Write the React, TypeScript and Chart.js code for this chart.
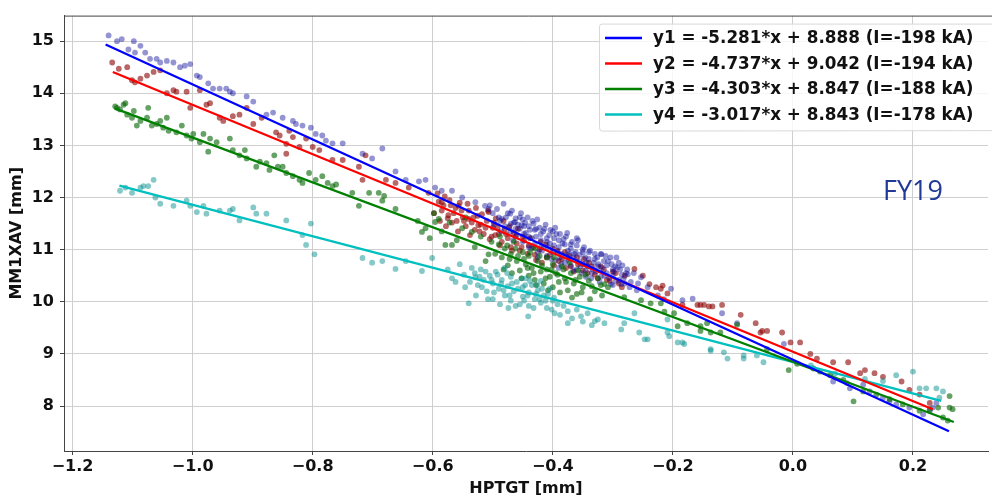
import React, { useEffect, useRef } from "react";
import { Chart, registerables } from "chart.js";

Chart.register(...registerables);

// ---------- data ----------
const X_TICKS = [-1.2, -1.0, -0.8, -0.6, -0.4, -0.2, 0.0, 0.2];
const Y_TICKS = [8, 9, 10, 11, 12, 13, 14, 15];
const X_TITLE = "HPTGT [mm]";
const Y_TITLE = "MM1XAV [mm]";
const NOTE = "FY19";

const FIT_LABELS = [
  "y1 = -5.281*x + 8.888 (I=-198 kA)",
  "y2 = -4.737*x + 9.042 (I=-194 kA)",
  "y3 = -4.303*x + 8.847 (I=-188 kA)",
  "y4 = -3.017*x + 8.843 (I=-178 kA)",
];

// fitted line end points [x, y]
const FIT_198 = [[-1.145, 14.935], [0.26, 7.515]];
const FIT_194 = [[-1.133, 14.409], [0.233, 7.938]];
const FIT_188 = [[-1.13, 13.709], [0.268, 7.694]];
const FIT_178 = [[-1.122, 12.228], [0.247, 8.098]];

// measured points [x, y]
const PTS_198 = [
  [-1.140, 15.11], [-1.126, 15.00], [-1.118, 15.04], [-1.098, 15.00], [-1.107, 14.84], [-1.096, 14.78],
  [-1.087, 14.91], [-1.079, 14.78], [-1.071, 14.66], [-1.060, 14.66], [-1.054, 14.59], [-1.043, 14.62],
  [-1.032, 14.59], [-1.021, 14.50], [-1.013, 14.53], [-1.004, 14.56], [-0.993, 14.34], [-0.988, 14.31],
  [-0.974, 14.19], [-0.966, 14.09], [-0.955, 14.09], [-0.944, 14.09], [-0.938, 14.03], [-0.933, 14.00],
  [-0.910, 13.94], [-0.899, 13.84], [-0.877, 13.59], [-0.866, 13.63], [-0.850, 13.53], [-0.833, 13.47],
  [-0.828, 13.41], [-0.817, 13.38], [-0.803, 13.34], [-0.795, 13.22], [-0.784, 13.19], [-0.778, 13.09],
  [-0.767, 13.04], [-0.750, 13.04], [-0.717, 12.84], [-0.701, 12.75], [-0.684, 12.94], [-0.662, 12.50],
  [-0.645, 12.34], [-0.623, 12.31], [-0.612, 12.34], [-0.596, 12.19], [-0.585, 12.13], [-0.568, 12.13],
  [-0.551, 12.00], [-0.529, 11.91], [-0.513, 11.84], [-0.507, 11.78], [-0.485, 11.59], [-0.471, 11.69],
  [-0.463, 11.53], [-0.452, 11.47],
  [-0.49, 11.62], [-0.48, 11.45], [-0.475, 11.70], [-0.47, 11.35], [-0.465, 11.52], [-0.46, 11.28],
  [-0.455, 11.40], [-0.45, 11.15], [-0.45, 11.58], [-0.445, 11.32], [-0.44, 11.05], [-0.44, 11.45],
  [-0.435, 11.22], [-0.43, 11.10], [-0.43, 11.38], [-0.425, 10.95], [-0.42, 11.18], [-0.42, 11.30],
  [-0.415, 11.05], [-0.41, 10.88], [-0.41, 11.22], [-0.405, 11.12], [-0.40, 10.95], [-0.40, 11.35],
  [-0.395, 10.80], [-0.39, 11.05], [-0.39, 11.18], [-0.385, 10.92], [-0.38, 10.75], [-0.38, 11.10],
  [-0.375, 10.98], [-0.37, 10.70], [-0.37, 11.02], [-0.365, 10.85], [-0.36, 10.62], [-0.36, 11.08],
  [-0.355, 10.90], [-0.35, 10.72], [-0.35, 10.95], [-0.345, 10.60], [-0.34, 10.82], [-0.335, 10.55],
  [-0.33, 10.92], [-0.325, 10.68], [-0.32, 10.48], [-0.315, 10.78], [-0.31, 10.55], [-0.30, 10.62],
  [-0.295, 10.40], [-0.29, 10.75], [-0.285, 10.52], [-0.28, 10.35],
  [-0.319, 10.91], [-0.308, 10.78], [-0.292, 10.66], [-0.275, 10.53], [-0.270, 10.38], [-0.303, 10.34],
  [-0.286, 10.34], [-0.253, 10.47], [-0.242, 10.28], [-0.26, 10.22], [-0.225, 10.12], [-0.215, 10.05],
  [-0.203, 10.25], [-0.184, 10.03], [-0.167, 10.06], [-0.118, 9.78], [-0.093, 9.59], [-0.015, 9.19],
  [0.067, 8.47], [0.090, 8.44], [0.095, 8.34], [0.117, 8.41], [0.128, 8.28], [0.150, 8.16],
  [0.161, 8.09], [0.172, 8.03], [0.194, 7.97], [0.217, 7.84], [0.233, 7.97], [0.228, 7.91], [0.239, 8.06],
];
const CORE_198 = [
  [-0.505, 11.85], [-0.50, 11.70], [-0.498, 11.48], [-0.493, 11.78], [-0.488, 11.55], [-0.486, 11.35],
  [-0.482, 11.88], [-0.478, 11.62], [-0.473, 11.42], [-0.468, 11.75], [-0.466, 11.18], [-0.462, 11.60],
  [-0.458, 11.48], [-0.453, 11.70], [-0.448, 11.30], [-0.446, 11.52], [-0.442, 11.62], [-0.438, 11.38],
  [-0.436, 11.02], [-0.432, 11.50], [-0.428, 11.25], [-0.426, 11.58], [-0.422, 11.42], [-0.418, 10.98],
  [-0.416, 11.35], [-0.412, 11.48], [-0.408, 11.05], [-0.406, 11.28], [-0.402, 10.82], [-0.398, 11.22],
  [-0.396, 11.42], [-0.392, 10.95], [-0.388, 11.30], [-0.386, 10.72], [-0.382, 11.20], [-0.378, 10.88],
  [-0.376, 11.32], [-0.372, 10.92], [-0.368, 11.15], [-0.366, 10.60], [-0.362, 10.95], [-0.358, 11.18],
  [-0.356, 10.78], [-0.352, 10.55], [-0.348, 11.05], [-0.346, 10.85], [-0.342, 10.68], [-0.338, 10.98],
  [-0.336, 10.45], [-0.332, 10.75], [-0.328, 10.58], [-0.326, 10.85], [-0.322, 10.38], [-0.318, 10.65],
  [-0.312, 10.88], [-0.306, 10.45], [-0.302, 10.72], [-0.298, 10.58], [-0.294, 10.85], [-0.288, 10.62],
  [-0.282, 10.45], [-0.276, 10.62], [-0.272, 10.28], [-0.265, 10.55], [-0.258, 10.35],
  [-0.47, 11.50], [-0.462, 11.40], [-0.455, 11.62], [-0.448, 11.45], [-0.44, 11.25], [-0.434, 11.55],
  [-0.428, 11.40], [-0.42, 11.05], [-0.414, 11.40], [-0.41, 11.15], [-0.404, 11.38], [-0.398, 11.08],
  [-0.394, 11.30], [-0.388, 10.85], [-0.384, 11.12], [-0.378, 11.25], [-0.374, 10.80], [-0.37, 11.10],
  [-0.364, 10.92], [-0.36, 11.22], [-0.354, 10.68], [-0.35, 11.00], [-0.344, 10.75], [-0.34, 10.95],
  [-0.334, 10.62], [-0.33, 10.82], [-0.324, 10.72], [-0.32, 10.92], [-0.314, 10.50], [-0.31, 10.70],
  [-0.304, 10.85], [-0.30, 10.50], [-0.296, 10.68], [-0.29, 10.42], [-0.284, 10.70], [-0.278, 10.55],
  [-0.30, 10.32], [-0.345, 10.48], [-0.39, 10.65], [-0.425, 10.85],
];

const PTS_194 = [
  [-1.134, 14.59], [-1.123, 14.47], [-1.109, 14.50], [-1.101, 14.25], [-1.096, 14.21], [-1.087, 14.28],
  [-1.076, 14.34], [-1.065, 14.41], [-1.054, 14.44], [-1.043, 14.00], [-1.032, 14.06], [-1.027, 14.03],
  [-1.010, 14.03], [-1.004, 13.72], [-0.988, 14.06], [-0.977, 13.78], [-0.971, 13.81], [-0.955, 13.53],
  [-0.949, 13.47], [-0.933, 13.56], [-0.922, 13.59], [-0.910, 13.72], [-0.899, 13.41], [-0.885, 13.53],
  [-0.861, 13.25], [-0.855, 13.19], [-0.844, 13.03], [-0.839, 13.28], [-0.833, 13.16], [-0.822, 12.97],
  [-0.811, 13.13], [-0.800, 12.97], [-0.789, 12.91], [-0.844, 12.84],
  [-0.767, 12.72], [-0.750, 12.72], [-0.723, 12.59], [-0.717, 12.34], [-0.712, 12.81], [-0.678, 12.34],
  [-0.662, 12.28], [-0.640, 12.19], [-0.607, 12.09], [-0.585, 11.91], [-0.574, 11.66], [-0.557, 11.84],
  [-0.540, 11.59], [-0.524, 11.47], [-0.507, 11.72], [-0.496, 11.28],
  [-0.59, 11.92], [-0.585, 11.75], [-0.58, 12.02], [-0.575, 11.60], [-0.57, 11.85], [-0.565, 11.70],
  [-0.56, 11.55], [-0.555, 11.90], [-0.55, 11.62], [-0.545, 11.45], [-0.54, 11.75], [-0.535, 11.52],
  [-0.53, 11.38], [-0.525, 11.65], [-0.52, 11.48], [-0.515, 11.30], [-0.51, 11.55], [-0.505, 11.20],
  [-0.50, 11.42], [-0.495, 11.60], [-0.49, 11.30], [-0.485, 11.15], [-0.48, 11.40], [-0.475, 11.22],
  [-0.47, 11.05], [-0.465, 11.32], [-0.46, 11.12], [-0.455, 10.98], [-0.45, 11.25], [-0.44, 11.08],
  [-0.43, 10.90], [-0.42, 11.15], [-0.41, 10.85], [-0.40, 11.02], [-0.39, 10.78], [-0.38, 10.95],
  [-0.37, 10.68], [-0.36, 10.85], [-0.35, 10.60], [-0.34, 10.75], [-0.33, 10.52], [-0.32, 10.68],
  [-0.31, 10.42], [-0.30, 10.58], [-0.29, 10.35], [-0.28, 10.50],
  [-0.264, 10.63], [-0.250, 10.50], [-0.239, 10.34], [-0.228, 10.28], [-0.217, 10.31], [-0.209, 10.16],
  [-0.220, 10.25], [-0.184, 9.94], [-0.159, 9.94], [-0.148, 9.94], [-0.154, 9.94], [-0.140, 9.91],
  [-0.134, 9.91], [-0.118, 9.94], [-0.087, 9.75], [-0.062, 9.59], [-0.054, 9.41], [-0.043, 9.44],
  [-0.051, 9.44], [-0.018, 9.41], [-0.004, 9.22], [0.012, 9.22], [0.029, 9.00], [0.040, 8.91],
  [0.067, 8.84], [0.092, 8.84], [0.112, 8.63], [0.120, 8.69], [0.136, 8.63], [0.150, 8.56],
  [0.181, 8.47], [0.194, 8.31], [0.211, 8.22], [0.228, 8.06],
];
const CORE_194 = [
  [-0.598, 11.70], [-0.592, 12.08], [-0.588, 11.55], [-0.582, 11.85], [-0.578, 11.45], [-0.572, 11.95],
  [-0.568, 11.52], [-0.562, 11.80], [-0.558, 11.35], [-0.552, 11.75], [-0.548, 11.55], [-0.542, 11.88],
  [-0.538, 11.28], [-0.532, 11.62], [-0.528, 11.80], [-0.522, 11.35], [-0.518, 11.68], [-0.512, 11.42],
  [-0.508, 11.75], [-0.502, 11.25], [-0.498, 11.52], [-0.492, 11.42], [-0.488, 11.08], [-0.482, 11.55],
  [-0.478, 11.30], [-0.472, 11.45], [-0.468, 10.98], [-0.462, 11.25], [-0.458, 11.40], [-0.452, 11.05],
  [-0.448, 11.18], [-0.442, 10.92], [-0.438, 11.22], [-0.432, 11.05], [-0.428, 10.80], [-0.422, 11.00],
  [-0.418, 10.75], [-0.412, 11.10], [-0.405, 10.90], [-0.398, 10.70], [-0.392, 10.98], [-0.385, 10.82],
  [-0.378, 10.65], [-0.372, 10.88], [-0.365, 10.58], [-0.358, 10.72], [-0.348, 10.82], [-0.342, 10.55],
  [-0.335, 10.68], [-0.325, 10.45], [-0.315, 10.62], [-0.305, 10.40], [-0.295, 10.55], [-0.285, 10.28],
];

const PTS_188 = [
  [-1.129, 13.75], [-1.126, 13.72], [-1.121, 13.69], [-1.115, 13.78], [-1.112, 13.81], [-1.109, 13.59],
  [-1.101, 13.53], [-1.098, 13.66], [-1.093, 13.38], [-1.087, 13.47], [-1.076, 13.53], [-1.074, 13.72],
  [-1.068, 13.38], [-1.060, 13.41], [-1.054, 13.47], [-1.049, 13.34], [-1.043, 13.53], [-1.040, 13.28],
  [-1.027, 13.25], [-1.018, 13.38], [-1.010, 13.19], [-1.002, 13.13], [-0.999, 13.22], [-0.988, 13.06],
  [-0.982, 13.22], [-0.974, 12.88], [-0.971, 13.13], [-0.960, 13.06], [-0.938, 13.13], [-0.933, 12.91],
  [-0.922, 12.81], [-0.913, 12.91], [-0.910, 12.75], [-0.894, 12.59], [-0.888, 12.69], [-0.877, 12.66],
  [-0.872, 12.53], [-0.864, 12.81], [-0.858, 12.59], [-0.850, 12.59], [-0.844, 12.47], [-0.833, 12.41],
  [-0.822, 12.34], [-0.817, 12.28], [-0.806, 12.47], [-0.795, 12.34], [-0.784, 12.41], [-0.775, 12.28],
  [-0.767, 12.22], [-0.761, 12.25], [-0.734, 12.09], [-0.723, 11.84], [-0.706, 12.09], [-0.690, 12.09],
  [-0.681, 12.03], [-0.684, 11.94], [-0.662, 11.78], [-0.618, 11.34], [-0.596, 11.53], [-0.579, 11.09],
  [-0.568, 11.09], [-0.612, 11.41], [-0.590, 11.59], [-0.551, 11.41], [-0.535, 11.34], [-0.507, 10.91],
  [-0.49, 11.10], [-0.485, 10.85], [-0.48, 11.02], [-0.475, 10.70], [-0.47, 10.92], [-0.465, 11.15],
  [-0.46, 10.78], [-0.455, 10.60], [-0.45, 10.95], [-0.445, 10.72], [-0.44, 10.50], [-0.44, 10.88],
  [-0.435, 10.65], [-0.43, 11.02], [-0.43, 10.42], [-0.425, 10.78], [-0.42, 10.58], [-0.415, 10.35],
  [-0.41, 10.85], [-0.41, 10.62], [-0.405, 10.48], [-0.40, 10.72], [-0.40, 10.28], [-0.395, 10.55],
  [-0.39, 10.38], [-0.385, 10.68], [-0.38, 10.45], [-0.375, 10.22], [-0.37, 10.55], [-0.365, 10.35],
  [-0.36, 10.15], [-0.355, 10.48], [-0.35, 10.28], [-0.34, 10.40], [-0.33, 10.20], [-0.32, 10.32],
  [-0.314, 10.34], [-0.308, 10.28], [-0.281, 10.09], [-0.253, 10.03], [-0.237, 9.97], [-0.214, 9.81],
  [-0.198, 9.78], [-0.176, 9.59], [-0.154, 9.53], [-0.143, 9.59], [-0.121, 9.41], [-0.220, 9.97],
  [-0.192, 9.53], [-0.154, 9.44], [-0.137, 9.41], [-0.093, 9.56], [-0.043, 9.09], [-0.007, 8.69],
  [0.007, 8.81], [0.034, 8.72], [0.045, 8.66], [0.062, 8.59], [0.084, 8.50], [0.101, 8.09],
  [0.117, 8.28], [0.139, 8.22], [0.161, 8.13], [0.183, 8.03], [0.211, 7.91], [0.228, 7.94],
  [0.242, 7.97], [0.250, 7.78], [0.261, 8.19], [0.261, 7.97], [0.266, 7.94], [0.258, 7.72],
];
const CORE_188 = [
  [-0.625, 11.55], [-0.605, 11.22], [-0.598, 11.70], [-0.585, 11.35], [-0.572, 11.52], [-0.56, 11.18],
  [-0.545, 11.62], [-0.53, 11.05], [-0.52, 11.25], [-0.512, 10.78], [-0.502, 11.15], [-0.496, 10.92],
  [-0.488, 11.25], [-0.482, 10.62], [-0.476, 11.08], [-0.472, 10.82], [-0.468, 10.55], [-0.462, 11.02],
  [-0.458, 10.88], [-0.452, 10.45], [-0.448, 10.82], [-0.442, 10.65], [-0.438, 10.95], [-0.432, 10.55],
  [-0.428, 10.32], [-0.422, 10.88], [-0.418, 10.70], [-0.412, 10.45], [-0.408, 10.22], [-0.402, 10.62],
  [-0.398, 10.85], [-0.392, 10.52], [-0.388, 10.18], [-0.382, 10.62], [-0.378, 10.38], [-0.372, 10.75],
  [-0.368, 10.08], [-0.362, 10.42], [-0.358, 10.60], [-0.352, 10.18], [-0.345, 10.52], [-0.338, 10.05],
  [-0.335, 10.30], [-0.325, 10.45], [-0.318, 10.12],
];

const PTS_178 = [
  [-1.121, 12.13], [-1.112, 12.19], [-1.101, 12.09], [-1.087, 12.19], [-1.082, 12.22], [-1.074, 12.22],
  [-1.065, 12.34], [-1.062, 12.00], [-1.054, 11.88], [-1.032, 11.84], [-1.010, 11.94], [-1.004, 11.84],
  [-0.993, 11.72], [-0.982, 11.84], [-0.977, 11.69], [-0.955, 11.75], [-0.938, 11.75], [-0.933, 11.78],
  [-0.922, 11.56], [-0.899, 11.81], [-0.894, 11.69], [-0.877, 11.69], [-0.844, 11.56], [-0.817, 11.28],
  [-0.811, 11.09], [-0.803, 11.50], [-0.797, 10.91],
  [-0.717, 10.84], [-0.701, 10.75], [-0.684, 10.78], [-0.662, 10.63], [-0.645, 10.78], [-0.618, 10.59],
  [-0.601, 10.84], [-0.562, 10.38], [-0.546, 10.28], [-0.529, 10.47], [-0.540, 9.97], [-0.474, 9.88],
  [-0.441, 9.72],
  [-0.53, 10.55], [-0.525, 10.32], [-0.52, 10.62], [-0.515, 10.42], [-0.51, 10.20], [-0.505, 10.50],
  [-0.50, 10.35], [-0.50, 10.05], [-0.495, 10.58], [-0.49, 10.25], [-0.485, 10.42], [-0.48, 10.12],
  [-0.48, 10.65], [-0.475, 10.30], [-0.47, 10.48], [-0.47, 10.02], [-0.465, 10.20], [-0.46, 10.38],
  [-0.455, 9.95], [-0.45, 10.28], [-0.45, 10.10], [-0.445, 10.45], [-0.44, 10.18], [-0.44, 9.92],
  [-0.435, 10.32], [-0.43, 10.05], [-0.425, 10.22], [-0.42, 9.98], [-0.42, 10.40], [-0.415, 10.12],
  [-0.41, 9.88], [-0.405, 10.25], [-0.40, 10.02],
  [-0.397, 9.78], [-0.375, 9.59], [-0.353, 9.72], [-0.330, 9.63], [-0.314, 9.59], [-0.286, 9.47],
  [-0.264, 9.78], [-0.247, 9.28], [-0.256, 9.41], [-0.325, 9.66], [-0.281, 9.59], [-0.242, 9.28],
  [-0.209, 9.41], [-0.192, 9.22], [-0.181, 9.19], [-0.137, 9.06], [-0.115, 9.03], [-0.082, 8.97],
  [-0.209, 9.66], [-0.206, 9.34], [-0.184, 9.22], [-0.137, 9.09], [-0.109, 8.91], [-0.082, 8.91],
  [-0.060, 8.97], [-0.049, 8.84], [0.03, 8.78], [0.07, 8.62], [0.12, 8.52], [0.15, 8.48],
  [0.172, 8.59], [0.200, 8.66], [0.211, 8.34], [0.222, 8.34], [0.239, 8.34], [0.250, 8.28], [0.244, 8.16],
];
const CORE_178 = [
  [-0.575, 10.62], [-0.568, 10.45], [-0.555, 10.72], [-0.548, 10.52], [-0.538, 10.38], [-0.535, 10.65],
  [-0.528, 10.12], [-0.522, 10.48], [-0.518, 10.28], [-0.512, 10.58], [-0.508, 10.05], [-0.502, 10.42],
  [-0.498, 10.18], [-0.492, 10.52], [-0.488, 9.95], [-0.486, 10.35], [-0.482, 10.22], [-0.476, 10.55],
  [-0.472, 10.12], [-0.468, 10.35], [-0.462, 9.92], [-0.458, 10.25], [-0.452, 10.45], [-0.448, 10.02],
  [-0.446, 10.32], [-0.442, 10.12], [-0.438, 10.40], [-0.432, 9.88], [-0.428, 10.15], [-0.426, 10.32],
  [-0.422, 10.05], [-0.418, 10.25], [-0.412, 10.02], [-0.408, 10.15], [-0.402, 9.85], [-0.398, 10.08],
  [-0.392, 9.95], [-0.388, 9.75], [-0.382, 9.92], [-0.375, 9.82], [-0.368, 9.68], [-0.36, 9.85],
  [-0.35, 9.62], [-0.342, 9.78], [-0.335, 9.55],
];

const LINE_COLORS = ["#0000ff", "#ff0000", "#008000", "#00bfbf"];
const POINT_COLORS = [
  "rgba(0,0,150,0.42)",
  "rgba(139,0,0,0.6)",
  "rgba(0,100,0,0.6)",
  "rgba(0,139,139,0.48)",
];
// drawing order of the point clouds (lower = on top)
const POINT_ORDER = [3, 4, 2, 1];

const toXY = (arr: number[][]) => arr.map(([x, y]) => ({ x, y }));
const fmt = (v: number) => {
  const s = Math.abs(v).toFixed(1);
  return v < -1e-9 ? "\u2212" + s : s;
};

const FONT = '"DejaVu Sans", sans-serif';

const overlayPlugin = {
  id: "overlay",
  afterDatasetsDraw(chart: any) {
    const { ctx, chartArea } = chart;
    ctx.save();
    // top spine
    ctx.strokeStyle = "#444";
    ctx.lineWidth = 1;
    ctx.beginPath();
    ctx.moveTo(chartArea.left, chartArea.top + 0.5);
    ctx.lineTo(chartArea.right + 5, chartArea.top + 0.5);
    ctx.stroke();

    // legend box
    const bx = chartArea.left + 535;
    const by = chartArea.top + 8;
    const bw = 420;
    const bh = 107;
    ctx.fillStyle = "rgba(255,255,255,0.8)";
    ctx.strokeStyle = "#d8d8d8";
    ctx.beginPath();
    const r = 3;
    ctx.moveTo(bx + r, by + 0.5);
    ctx.lineTo(bx + bw, by + 0.5);
    ctx.lineTo(bx + bw, by + bh);
    ctx.lineTo(bx + r, by + bh + 0.5);
    ctx.quadraticCurveTo(bx + 0.5, by + bh + 0.5, bx + 0.5, by + bh - r);
    ctx.lineTo(bx + 0.5, by + r);
    ctx.quadraticCurveTo(bx + 0.5, by + 0.5, bx + r, by + 0.5);
    ctx.closePath();
    ctx.fill();
    ctx.stroke();

    const lines = chart.data.datasets.filter((d: any) => d.isFit);
    ctx.font = `bold 16.8px ${FONT}`;
    ctx.textBaseline = "middle";
    lines.forEach((d: any, i: number) => {
      const yy = by + 14.5 + i * 25.5;
      ctx.strokeStyle = d.borderColor;
      ctx.lineWidth = 2.5;
      ctx.beginPath();
      ctx.moveTo(bx + 6, yy);
      ctx.lineTo(bx + 43, yy);
      ctx.stroke();
      ctx.fillStyle = "#111";
      ctx.fillText(d.label, bx + 54, yy + 1);
    });

    // note
    ctx.fillStyle = "#203a96";
    ctx.font = `27px "Open Sans", sans-serif`;
    ctx.textBaseline = "alphabetic";
    ctx.fillText(NOTE, chartArea.left + 819, chartArea.top + 184);
    ctx.restore();
  },
};

export default function App() {
  const ref = useRef<HTMLCanvasElement | null>(null);

  useEffect(() => {
    if (!ref.current) return;
    const ptsSets = [
      PTS_198.concat(CORE_198),
      PTS_194.concat(CORE_194),
      PTS_188.concat(CORE_188),
      PTS_178.concat(CORE_178),
    ];
    const fitSets = [FIT_198, FIT_194, FIT_188, FIT_178];
    const datasets: any[] = [];
    ptsSets.forEach((p, i) => {
      datasets.push({
        type: "scatter",
        label: "pts" + i,
        data: toXY(p),
        backgroundColor: POINT_COLORS[i],
        borderWidth: 0,
        pointRadius: 2.9,
        order: POINT_ORDER[i],
      });
    });
    fitSets.forEach((f, i) => {
      datasets.push({
        type: "line",
        label: FIT_LABELS[i],
        isFit: true,
        data: toXY(f),
        borderColor: LINE_COLORS[i],
        backgroundColor: LINE_COLORS[i],
        borderWidth: 2.3,
        pointRadius: 0,
        fill: false,
        tension: 0,
        order: 0,
      });
    });

    const tickFont = { family: FONT, size: 16, weight: "bold" as const };
    const chart = new Chart(ref.current, {
      type: "scatter",
      data: { datasets },
      options: {
        animation: false,
        responsive: false,
        devicePixelRatio: 1,
        layout: { padding: { top: 6, right: 0, left: 0, bottom: 0 } },
        plugins: { legend: { display: false }, tooltip: { enabled: false } },
        scales: {
          x: {
            type: "linear",
            min: -1.2143,
            max: 0.325,
            afterBuildTicks: (s: any) => {
              s.ticks = X_TICKS.map((v) => ({ value: v }));
            },
            afterFit: (s: any) => {
              s.height = 48;
            },
            ticks: {
              autoSkip: false,
              maxRotation: 0,
              padding: 2,
              color: "#111",
              font: tickFont,
              callback: (v: any) => fmt(Number(v)),
            },
            grid: { color: "#cfcfcf", lineWidth: 1, tickLength: 4, tickColor: "#444" },
            border: { color: "#444", width: 1 },
            title: {
              display: true,
              text: X_TITLE,
              color: "#111",
              font: { family: FONT, size: 16, weight: "bold" },
              padding: { top: 0, bottom: 1 },
            },
          },
          y: {
            type: "linear",
            min: 7.137,
            max: 15.49,
            afterBuildTicks: (s: any) => {
              s.ticks = Y_TICKS.map((v) => ({ value: v }));
            },
            afterFit: (s: any) => {
              s.width = 64;
            },
            ticks: {
              autoSkip: false,
              padding: 6,
              color: "#111",
              font: tickFont,
              callback: (v: any) => String(v),
            },
            grid: { color: "#cfcfcf", lineWidth: 1, tickLength: 4, tickColor: "#444" },
            border: { color: "#444", width: 1 },
            title: {
              display: true,
              text: Y_TITLE,
              color: "#111",
              font: { family: FONT, size: 16, weight: "bold" },
              padding: { top: 7, bottom: 0 },
            },
          },
        },
      },
      plugins: [overlayPlugin],
    } as any);
    return () => chart.destroy();
  }, []);

  return (
    <div style={{ position: "absolute", left: 0, top: 0, width: 992, height: 499, background: "#fff" }}>
      <canvas ref={ref} width={992} height={499} style={{ display: "block" }} />
    </div>
  );
}
